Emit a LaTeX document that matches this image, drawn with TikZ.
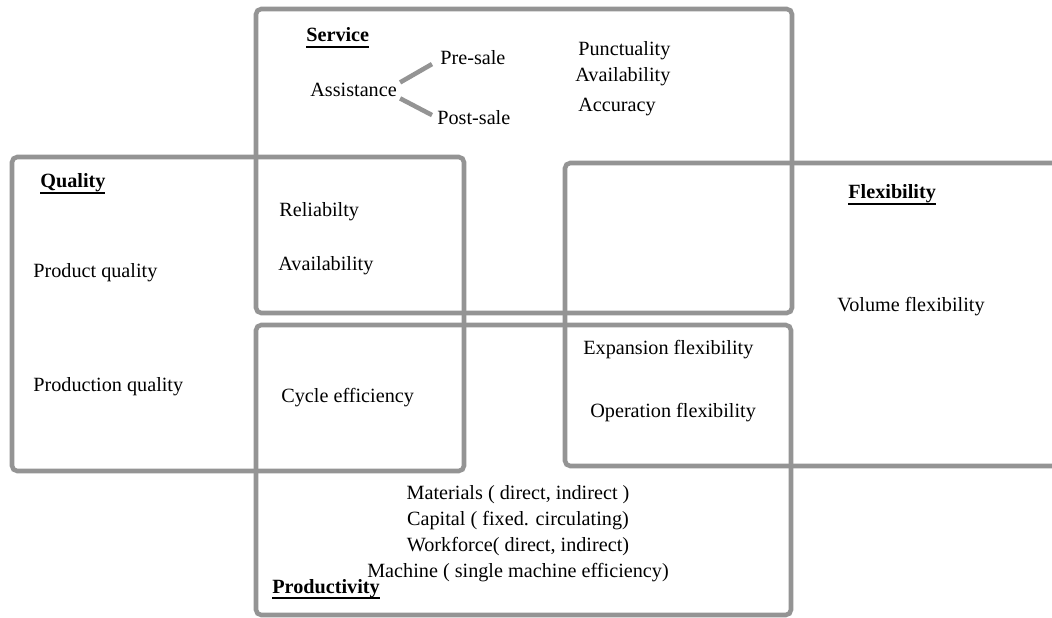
\documentclass[tikz,border=0pt]{standalone}
\usepackage{fontspec}
\setmainfont{Liberation Serif}
\usetikzlibrary{positioning}

% bold heading with a heavy underline
\newcommand\ulhead[1]{\setbox0=\hbox{\bfseries #1}\rlap{\rule[-3.6pt]{\wd0}{1.4pt}}\box0}

\begin{document}
\begin{tikzpicture}[
	x=0.02cm, y=-0.02cm,
	every node/.style={inner sep=0pt, font=\fontsize{11.5}{14.7}\selectfont},
	area/.style={
		draw=black!42,
		line width=2.6pt,
		rounded corners=3pt
	},
	item/.style={anchor=base west},
	branch/.style={draw=black!42, line width=2.6pt}
	]
	
	\useasboundingbox (0,0) rectangle (1052,618);
	
	% the four overlapping areas
	\draw[area] (256,9) rectangle (792,313);
	\draw[area] (12,157) rectangle (464,471);
	\draw[area] (565,163) rectangle (1075,466);
	\draw[area] (256,325) rectangle (791,615);
	
	% Service
	\node[item] (service) at (306,42) {\ulhead{Service}};
	\node[item] (assist) at (310,97) {Assistance};
	\node[item] (presale) at (440,65) {Pre-sale};
	\node[item] (postsale) at (437,125) {Post-sale};
	\node[item] (punct) at (578,56) {Punctuality};
	\node[item] (avail) at (575,82) {Availability};
	\node[item] (accur) at (578,112) {Accuracy};
	
	\draw[branch] ([shift={(3,-8)}]assist.east) -- ([shift={(-8,6)}]presale.west);
	\draw[branch] ([shift={(3,8)}]assist.east) -- ([shift={(-5,-3)}]postsale.west);
	
	% Quality
	\node[item] (quality) at (40,188) {\ulhead{Quality}};
	\node[item] (prodq) at (33,278) {Product quality};
	\node[item] (prodnq) at (33,392) {Production quality};
	
	% Service and Quality
	\node[item] (reliab) at (279,217) {Reliabilty};
	\node[item] (availq) at (278,271) {Availability};
	
	% Quality and Productivity
	\node[item] (cycle) at (281,402) {Cycle efficiency};
	
	% Flexibility
	\node[item] (flex) at (848,199) {\ulhead{Flexibility}};
	\node[item] (volume) at (837,312) {Volume flexibility};
	
	% Flexibility and Productivity
	\node[item] (expans) at (583,355) {Expansion flexibility};
	\node[item] (operat) at (590,418) {Operation flexibility};
	
	% Productivity (base is the last line here)
	\node[anchor=base, align=center] (inputs) at (518,577)
	{Materials ( direct, indirect )\\
		Capital ( fixed. circulating)\\
		Workforce( direct, indirect)\\
		Machine ( single machine efficiency)};
	\node[item] (product) at (272,593) {\ulhead{Productivity}};
	
\end{tikzpicture}
\end{document}
